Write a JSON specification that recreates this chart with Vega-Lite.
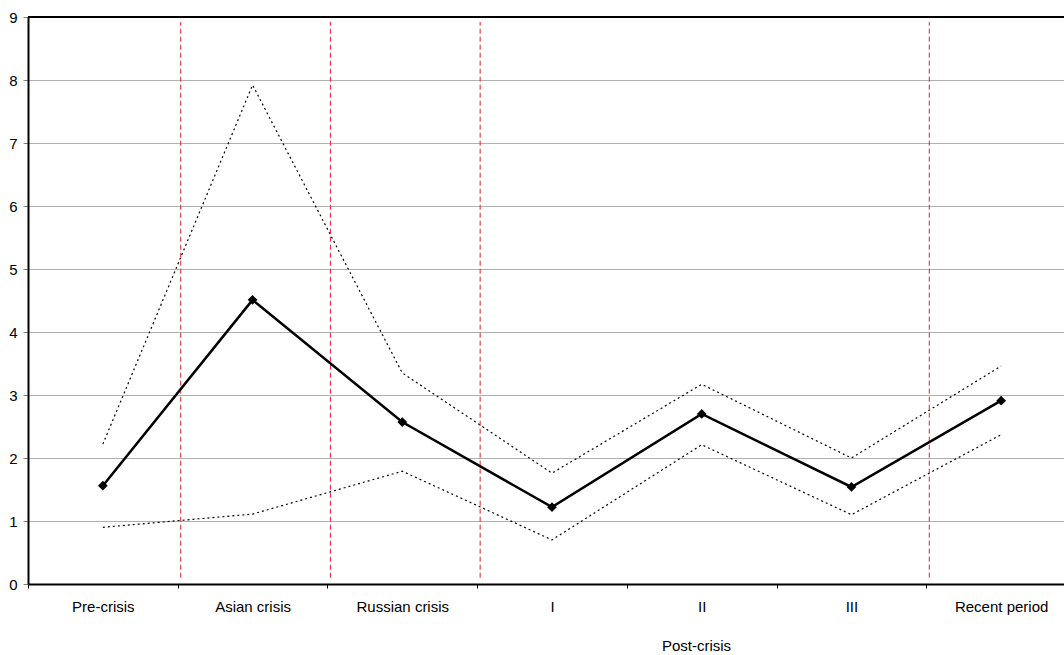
{
  "$schema": "https://vega.github.io/schema/vega-lite/v6.json",
  "width": 1036,
  "height": 567,
  "autosize": {"type": "none"},
  "padding": {"left": 28, "top": 17, "right": 0, "bottom": 71},
  "background": "white",
  "config": {
    "view": {"stroke": null},
    "font": "Liberation Sans",
    "axis": {"labelFont": "Liberation Sans", "titleFont": "Liberation Sans", "labelColor": "black", "titleColor": "black"}
  },
  "datasets": {
    "series": [
      {"period": "Pre-crisis", "series": "mid", "value": 1.56},
      {"period": "Asian crisis", "series": "mid", "value": 4.51},
      {"period": "Russian crisis", "series": "mid", "value": 2.57},
      {"period": "I", "series": "mid", "value": 1.22},
      {"period": "II", "series": "mid", "value": 2.70},
      {"period": "III", "series": "mid", "value": 1.54},
      {"period": "Recent period", "series": "mid", "value": 2.91},
      {"period": "Pre-crisis", "series": "upper", "value": 2.22},
      {"period": "Asian crisis", "series": "upper", "value": 7.92},
      {"period": "Russian crisis", "series": "upper", "value": 3.35},
      {"period": "I", "series": "upper", "value": 1.76},
      {"period": "II", "series": "upper", "value": 3.17},
      {"period": "III", "series": "upper", "value": 2.0},
      {"period": "Recent period", "series": "upper", "value": 3.46},
      {"period": "Pre-crisis", "series": "lower", "value": 0.90},
      {"period": "Asian crisis", "series": "lower", "value": 1.11},
      {"period": "Russian crisis", "series": "lower", "value": 1.79},
      {"period": "I", "series": "lower", "value": 0.70},
      {"period": "II", "series": "lower", "value": 2.21},
      {"period": "III", "series": "lower", "value": 1.10},
      {"period": "Recent period", "series": "lower", "value": 2.37}
    ],
    "bounds": [
      {"period": "Asian crisis", "y0": 0.1, "y1": 8.92},
      {"period": "Russian crisis", "y0": 0.1, "y1": 8.92},
      {"period": "I", "y0": 0.1, "y1": 8.92},
      {"period": "Recent period", "y0": 0.1, "y1": 8.92}
    ]
  },
  "layer": [
    {
      "data": {"name": "series"},
      "transform": [{"filter": "datum.series === 'upper' || datum.series === 'lower'"}],
      "mark": {"type": "line", "color": "black", "strokeWidth": 1.2, "strokeDash": [2, 3]},
      "encoding": {
        "x": {
          "field": "period", "type": "nominal",
          "sort": ["Pre-crisis", "Asian crisis", "Russian crisis", "I", "II", "III", "Recent period"],
          "scale": {"type": "band", "paddingInner": 0, "paddingOuter": 0, "range": [0, 1048]},
          "axis": {
            "title": "Post-crisis", "titleFontSize": 15, "titleFontWeight": "normal",
            "titleX": 668, "titleY": 61, "titleBaseline": "middle", "titleAlign": "center", "titleAnchor": null,
            "labelAngle": 0, "labelFontSize": 15, "labelPadding": 11,
            "tickBand": "extent", "ticks": true, "tickColor": "black", "tickSize": 4,
            "domainColor": "black", "domainWidth": 2, "grid": false
          }
        },
        "y": {
          "field": "value", "type": "quantitative",
          "scale": {"domain": [0, 9], "nice": false},
          "axis": {
            "title": null, "values": [0, 1, 2, 3, 4, 5, 6, 7, 8, 9], "format": "d",
            "labelFontSize": 15, "labelPadding": 6,
            "tickColor": "#808080", "tickSize": 5,
            "domainColor": "black", "domainWidth": 2,
            "grid": true, "gridColor": "#b0b0b0", "gridWidth": 1
          }
        },
        "detail": {"field": "series"}
      }
    },
    {
      "data": {"name": "bounds"},
      "mark": {"type": "rule", "color": "#e8202a", "strokeWidth": 1, "strokeDash": [5, 3], "xOffset": 3},
      "encoding": {
        "x": {"field": "period", "type": "nominal", "bandPosition": 0,
              "sort": ["Pre-crisis", "Asian crisis", "Russian crisis", "I", "II", "III", "Recent period"]},
        "y": {"field": "y0", "type": "quantitative"},
        "y2": {"field": "y1"}
      }
    },
    {
      "data": {"values": [{"v": 9}]},
      "mark": {"type": "rule", "color": "black", "strokeWidth": 2},
      "encoding": {"y": {"field": "v", "type": "quantitative"}}
    },
    {
      "data": {"name": "series"},
      "transform": [{"filter": "datum.series === 'mid'"}],
      "mark": {"type": "line", "color": "black", "strokeWidth": 2.5, "point": {"shape": "diamond", "size": 95, "filled": true, "color": "black"}},
      "encoding": {
        "x": {"field": "period", "type": "nominal",
              "sort": ["Pre-crisis", "Asian crisis", "Russian crisis", "I", "II", "III", "Recent period"]},
        "y": {"field": "value", "type": "quantitative"}
      }
    }
  ]
}
